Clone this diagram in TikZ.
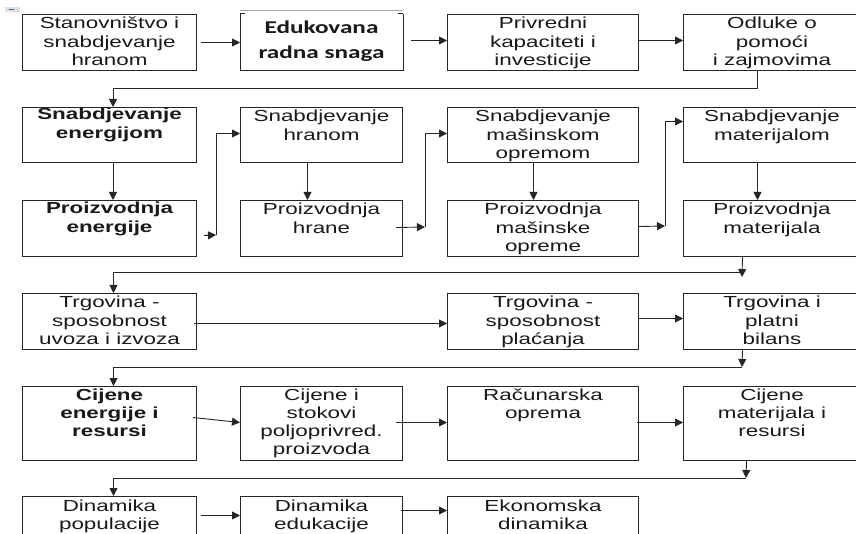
\documentclass[tikz,border=0pt]{standalone}
\usepackage{fontspec}
\setmainfont[FakeStretch=1.4]{Liberation Sans}
\newfontfamily\edufont[FakeStretch=1.4]{Carlito}
\usetikzlibrary{arrows.meta}

% top-aligned, centred box text: [first baseline]{width}{height}{lines}
\newcommand\bt[4][14.5pt]{\parbox[t][#3][t]{#2}{\centering\rule{0pt}{#1}#4}}

\begin{document}
\begin{tikzpicture}[x=1pt,y=-1pt,
  box/.style={draw=black!85, line width=1pt, inner sep=0pt, anchor=north west,
              text=black!90, font=\fontsize{16}{18.3}\selectfont},
  boldbox/.style={box, font=\fontsize{16}{18.3}\selectfont\bfseries},
  boxline/.style={draw=black!85, line width=1pt},
  arr/.style={draw=black!85, line width=0.9pt, -{Triangle[length=8pt,width=8pt]}}]
\clip (0,0) rectangle (856,534);
\fill[white] (0,0) rectangle (856,534);

% small anchor mark
\fill[gray!25] (5,7) rectangle (20,12);
\draw[blue!70, line width=0.8pt] (9,9.5) -- (14,9.5);

% row A
\node[box] (A1) at (22,14) {\bt{174pt}{56pt}{Stanovništvo i\\snabdjevanje\\hranom}};
\node[box, draw=none, font=\edufont\bfseries\fontsize{18}{25}\selectfont] (A2) at (240,14)
  {\bt[19.3pt]{162pt}{56pt}{Edukovana\\radna snaga}};
\node[box] (A3) at (447,14) {\bt{191pt}{56pt}{Privredni\\kapaciteti i\\investicije}};
\node[box] (A4) at (683,14) {\bt{177pt}{56pt}{Odluke o\\pomoći\\i zajmovima}};

% outline of the text frame
\draw[boxline] (A2.north west) -- (A2.south west) -- (A2.south east) -- (A2.north east);
\draw[boxline] (A2.north west) -- ++(5,0);
\draw[boxline] (A2.north east) -- ++(-5,0);
\draw[gray!70, line width=0.8pt] ([yshift=4pt]A2.north west) -- ([yshift=4pt]A2.north east);

% row B
\node[boldbox] (B1) at (22,107) {\bt[12.5pt]{174pt}{55pt}{Snabdjevanje\\energijom}};
\node[box] (B2) at (240,107) {\bt{162pt}{55pt}{Snabdjevanje\\hranom}};
\node[box] (B3) at (447,107) {\bt{191pt}{55pt}{Snabdjevanje\\mašinskom\\opremom}};
\node[box] (B4) at (683,107) {\bt{177pt}{55pt}{Snabdjevanje\\materijalom}};

% row C
\node[boldbox] (C1) at (22,200) {\bt[13.5pt]{174pt}{56pt}{Proizvodnja\\energije}};
\node[box] (C2) at (240,200) {\bt{162pt}{56pt}{Proizvodnja\\hrane}};
\node[box] (C3) at (447,200) {\bt{191pt}{56pt}{Proizvodnja\\mašinske\\opreme}};
\node[box] (C4) at (683,200) {\bt{177pt}{56pt}{Proizvodnja\\materijala}};

% row D
\node[box] (D1) at (22,293) {\bt{174pt}{56pt}{Trgovina -\\sposobnost\\uvoza i izvoza}};
\node[box] (D3) at (447,293) {\bt{191pt}{56pt}{Trgovina -\\sposobnost\\plaćanja}};
\node[box] (D4) at (683,293) {\bt{177pt}{56pt}{Trgovina i\\platni\\bilans}};

% row E
\node[boldbox] (E1) at (22,386) {\bt[13.5pt]{174pt}{74pt}{Cijene\\energije i\\resursi}};
\node[box] (E2) at (240,386) {\bt[13.5pt]{162pt}{74pt}{Cijene i\\stokovi\\poljoprivred.\\proizvoda}};
\node[box] (E3) at (447,386) {\bt[13.5pt]{191pt}{74pt}{Računarska\\oprema}};
\node[box] (E4) at (683,386) {\bt[13.5pt]{177pt}{74pt}{Cijene\\materijala i\\resursi}};

% row F
\node[box] (F1) at (22,496) {\bt{174pt}{56pt}{Dinamika\\populacije}};
\node[box] (F2) at (240,496) {\bt{162pt}{56pt}{Dinamika\\edukacije}};
\node[box] (F3) at (447,496) {\bt{191pt}{56pt}{Ekonomska\\dinamika}};

% junction points of the connectors
\coordinate (j1) at (757,88);
\coordinate (j2) at (216,235);
\coordinate (j3) at (425,227);
\coordinate (j4) at (665,226);
\coordinate (j5) at (742,277);
\coordinate (j6) at (742,272);
\coordinate (j7) at (742,367);
\coordinate (j8) at (746,478);

% row A links
\draw[arr] ([xshift=4pt]A1.east) -- (A2.west);
\draw[arr] ([xshift=8pt,yshift=2pt]A2.east) -- ([yshift=2pt]A3.west);
\draw[arr] ([yshift=2pt]A3.east) -- ([yshift=2pt]A4.west);
\draw[arr] (j1 |- A4.south) -- (j1) -| ([xshift=3.5pt]B1.north);

% supply / production links
\draw[arr] ([xshift=3.5pt]B1.south) -- ([xshift=3.5pt]C1.north);
\draw[arr] ([xshift=7pt,yshift=-7pt]C1.east) -- (j2);
\draw[arr] (j2) |- ([yshift=1.5pt]B2.west);
\draw[arr] ([xshift=-14pt]B2.south) -- ([xshift=-14pt]C2.north);
\draw[arr] ([xshift=-7pt,yshift=1pt]C2.east) -- (j3);
\draw[arr] (j3) |- ([yshift=1.5pt]B3.west);
\draw[arr] ([xshift=-9.5pt]B3.south) -- ([xshift=-9.5pt]C3.north);
\draw[arr] ([yshift=2pt]C3.east) -- (j4);
\draw[arr] (j4) |- ([yshift=13.5pt]B4.west);
\draw[arr] ([xshift=-14.5pt]B4.south) -- ([xshift=-14.5pt]C4.north);
\draw[arr] ([xshift=-29.5pt]C4.south) -- (j5);
\draw[arr] (j6) -| ([xshift=4pt]D1.north);

% trade links
\draw[arr] ([xshift=-3pt,yshift=-2pt]D1.east) -- ([yshift=-2pt]D3.west);
\draw[arr] ([yshift=3pt]D3.east) -- ([yshift=3pt]D4.west);
\draw[arr] ([xshift=-29.5pt]D4.south) -- (j7);
\draw[arr] (j7) -| ([xshift=4pt]E1.north);

% price links
\draw[arr] ([xshift=-4pt,yshift=6pt]E1.east) -- ([yshift=1pt]E2.west);
\draw[arr] ([xshift=-7pt,yshift=1pt]E2.east) -- ([yshift=1pt]E3.west);
\draw[arr] ([xshift=-2pt,yshift=1pt]E3.east) -- ([yshift=1pt]E4.west);
\draw[arr] ([xshift=-25.5pt]E4.south) -- (j8);
\draw[arr] (j8) -| ([xshift=4pt]F1.north);

% dynamics links
\draw[arr] ([xshift=4pt,yshift=9pt]F1.east) -- ([yshift=9pt]F2.west);
\draw[arr] ([xshift=-2pt,yshift=14pt]F2.east) -- ([yshift=14pt]F3.west);
\end{tikzpicture}
\end{document}
